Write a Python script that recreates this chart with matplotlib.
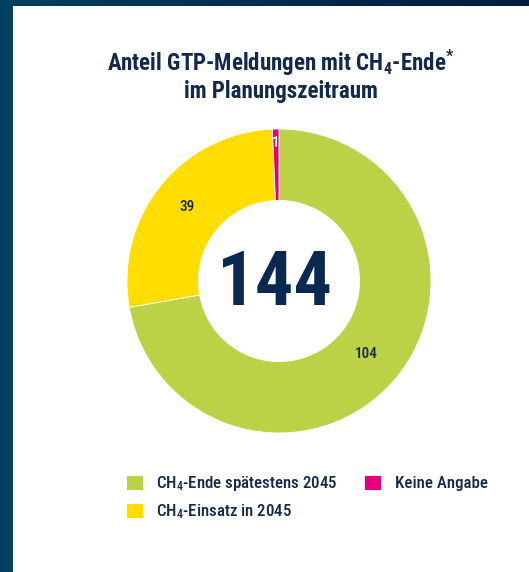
import numpy as np
import matplotlib
matplotlib.use("Agg")
import matplotlib.pyplot as plt
from matplotlib.patches import Rectangle
from matplotlib.colors import LinearSegmentedColormap

# ---- data ----
categories = ["CH$_4$-Ende spätestens 2045", "CH$_4$-Einsatz in 2045", "Keine Angabe"]
values = [104, 39, 1]
colors = ["#BDD147", "#FFDD00", "#E4007D"]
total_label = str(sum(values))
title_lines = [r"Anteil GTP-Meldungen mit CH$_\mathbf{4}$-Ende$^\mathbf{*}$",
               "im Planungszeitraum"]

FONT = ["Roboto Condensed", "DejaVu Sans"]
plt.rcParams['font.family'] = FONT
plt.rcParams['mathtext.fontset'] = 'custom'
plt.rcParams['mathtext.rm'] = 'Roboto Condensed:medium'
plt.rcParams['mathtext.it'] = 'Roboto Condensed:medium'
plt.rcParams['mathtext.bf'] = 'Roboto Condensed:bold'
plt.rcParams['mathtext.default'] = 'regular'

NAVY = "#13294B"
W, H = 529, 572
fig = plt.figure(figsize=(W / 100, H / 100), dpi=100)
fig.patch.set_facecolor("white")

# background frame
bg = fig.add_axes([0, 0, 1, 1], zorder=-5)
bg.axis("off")
cmap = LinearSegmentedColormap.from_list("frame", ["#02405F", "#001A3F"])
grad = np.linspace(0, 1, 256).reshape(1, -1)
bg.imshow(grad, cmap=cmap, extent=[0, W, 6, 0], aspect="auto")
bg.add_patch(Rectangle((0, 0), 13, H, color="#01405F", lw=0))
bg.set_xlim(0, W)
bg.set_ylim(H, 0)

# donut
cx, cy, R = 279, 281, 152
ax = fig.add_axes([(cx - R) / W, (H - cy - R) / H, 2 * R / W, 2 * R / H])
wedges, _ = ax.pie(values, colors=colors, startangle=90, counterclock=False,
                   radius=1.0,
                   wedgeprops=dict(width=0.47, edgecolor="white", linewidth=0.6))
ax.set_xlim(-1, 1)
ax.set_ylim(-1, 1)
ax.set_aspect("equal")

label_r = [0.75, 0.78, 0.91]
label_c = [NAVY, NAVY, "white"]
for w, v, r, c in zip(wedges, values, label_r, label_c):
    ang = np.deg2rad((w.theta1 + w.theta2) / 2)
    ax.text(r * np.cos(ang), r * np.sin(ang), str(v), ha="center", va="center",
            fontsize=11, color=c, fontweight="medium")

ax.text(-0.03, -0.02, total_label, ha="center", va="center", fontsize=55,
        fontweight="bold", color="#0B2850")

# title
for line, base in zip(title_lines, [71, 98]):
    fig.text(281 / W, 1 - base / H, line, ha="center", va="baseline",
             fontsize=16.5, fontweight="bold", color=NAVY)

# legend
leg = fig.legend(wedges, categories, loc="upper left",
                 bbox_to_anchor=(126 / W, 1 - 474 / H), ncol=2, frameon=False,
                 prop=dict(family=FONT, size=12.2, weight="medium"),
                 handlelength=1.0, handleheight=1.0,
                 handletextpad=0.8, columnspacing=1.55, labelspacing=0.55,
                 borderpad=0, borderaxespad=0)
for t in leg.get_texts():
    t.set_color(NAVY)

fig.savefig("out.png", dpi=100, facecolor="white")
